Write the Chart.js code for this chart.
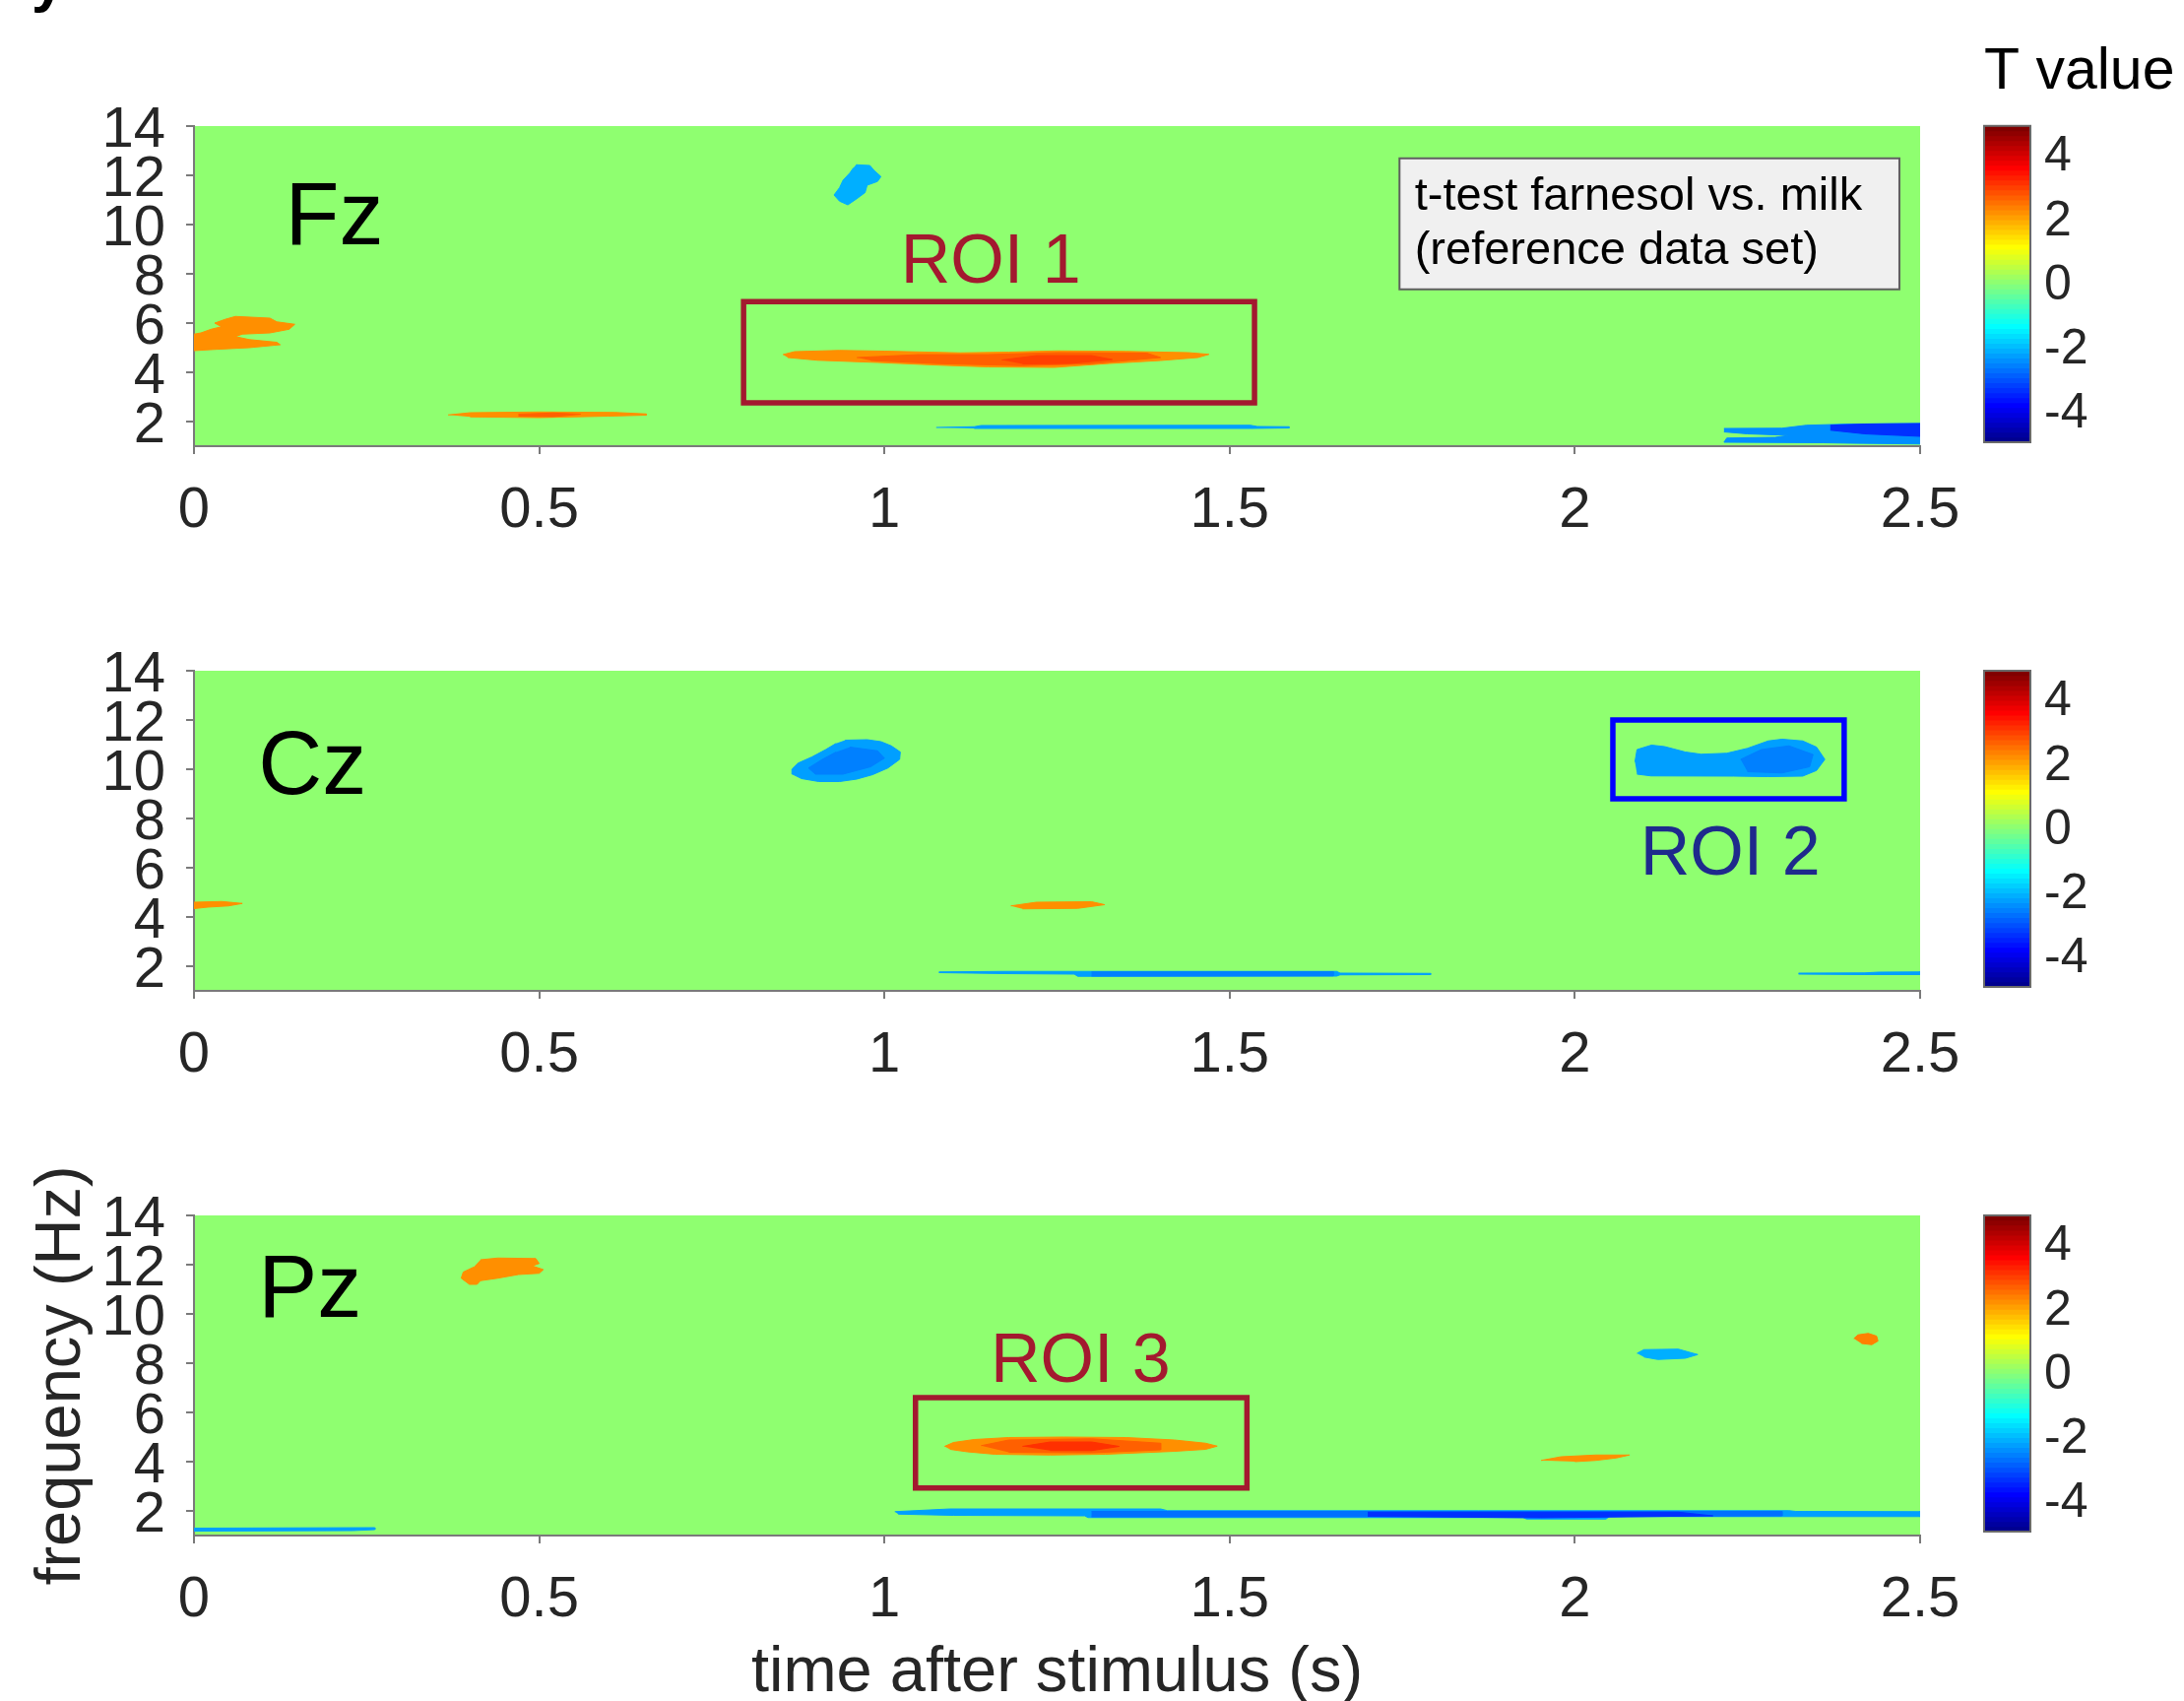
<!DOCTYPE html>
<html>
<head>
<meta charset="utf-8">
<script src="https://cdn.jsdelivr.net/npm/chart.js@4.4.1/dist/chart.umd.min.js"></script>
<style>
  html, body { margin: 0; padding: 0; background: #fff; }
  body { width: 2218px; height: 1727px; position: relative; overflow: hidden; }
  canvas { position: absolute; }
  #cut { position: absolute; left: 32px; top: -54px; line-height: 60px; font: bold 60px 'Liberation Sans', Arial, sans-serif; color: #000; }
</style>
</head>
<body>
<div id="cut">y</div>
<script>
// ---- data ----
const X_TICKS = [0, 0.5, 1, 1.5, 2, 2.5];
const Y_TICKS = [2, 4, 6, 8, 10, 12, 14];
const CBAR_TICKS = [-4, -2, 0, 2, 4];
const T_MIN = -5;
const T_MAX = 4.85;

const ELECTRODES = ['Fz', 'Cz', 'Pz'];
const ROI_NAMES = ['ROI 1', 'ROI 2', 'ROI 3'];
// [t start, t end, f low, f high]
const ROI_BOXES = [
  [0.796, 1.536, 2.76, 6.87],
  [2.055, 2.39, 8.8, 12.0],
  [1.045, 1.525, 2.93, 6.6]
];

// significant clusters: outline points [time (s), freq (Hz)] and T value
const FZ_BLOBS = [
  {T: 2.15, pts: [[0,4.88],[0.03,4.93],[0.08,5.0],[0.125,5.12],[0.12,5.22],[0.08,5.33],[0.06,5.45],[0.07,5.55],[0.11,5.6],[0.138,5.75],[0.146,5.95],[0.12,6.05],[0.11,6.2],[0.06,6.27],[0.045,6.15],[0.03,6.0],[0.04,5.85],[0.025,5.75],[0.01,5.6],[0,5.55]]},
  {T: 2.15, pts: [[0.368,2.27],[0.40,2.36],[0.50,2.39],[0.61,2.37],[0.655,2.31],[0.655,2.26],[0.60,2.22],[0.50,2.16],[0.40,2.19]]},
  {T: 2.6, pts: [[0.47,2.3],[0.52,2.35],[0.56,2.3],[0.52,2.2],[0.47,2.22]]},
  {T: -2.15, pts: [[0.959,12.43],[0.979,12.4],[0.985,12.2],[0.995,11.95],[0.99,11.75],[0.975,11.6],[0.972,11.3],[0.96,11.05],[0.947,10.8],[0.935,10.95],[0.927,11.2],[0.935,11.5],[0.94,11.8],[0.95,12.1],[0.955,12.3]]},
  {T: 2.15, pts: [[0.853,4.72],[0.87,4.84],[0.935,4.89],[1.0,4.86],[1.11,4.79],[1.18,4.82],[1.25,4.87],[1.35,4.85],[1.44,4.8],[1.47,4.73],[1.454,4.6],[1.4,4.48],[1.326,4.36],[1.246,4.2],[1.15,4.22],[1.079,4.29],[0.99,4.4],[0.903,4.49],[0.86,4.6]]},
  {T: 2.6, pts: [[0.96,4.6],[1.05,4.72],[1.15,4.72],[1.25,4.8],[1.38,4.78],[1.4,4.6],[1.3,4.35],[1.2,4.27],[1.08,4.35],[0.98,4.48]]},
  {T: 2.9, pts: [[1.17,4.5],[1.22,4.68],[1.3,4.68],[1.33,4.52],[1.27,4.36],[1.2,4.34]]},
  {T: -2.3, pts: [[1.075,1.76],[1.13,1.79],[1.14,1.84],[1.53,1.85],[1.54,1.8],[1.586,1.79],[1.586,1.74],[1.53,1.72],[1.13,1.72]]},
  {T: -2.45, pts: [[2.216,1.72],[2.3,1.73],[2.335,1.85],[2.4,1.9],[2.5,1.92],[2.5,1.09],[2.4,1.12],[2.36,1.14],[2.216,1.16],[2.22,1.33],[2.29,1.36],[2.31,1.44],[2.25,1.5],[2.216,1.58]]},
  {T: -3.4, pts: [[2.37,1.85],[2.42,1.9],[2.5,1.92],[2.5,1.4],[2.42,1.5],[2.37,1.65]]}
];

const CZ_BLOBS = [
  {T: 2.15, pts: [[0,4.6],[0.04,4.63],[0.07,4.55],[0.05,4.45],[0.02,4.4],[0,4.34]]},
  {T: -2.3, pts: [[0.943,11.18],[0.975,11.2],[0.995,11.12],[1.01,10.95],[1.023,10.7],[1.022,10.4],[1.005,10.05],[0.983,9.78],[0.96,9.6],[0.935,9.5],[0.905,9.5],[0.88,9.62],[0.867,9.8],[0.866,10.0],[0.875,10.25],[0.895,10.5],[0.915,10.8],[0.93,11.05]]},
  {T: -2.6, pts: [[0.95,10.9],[0.99,10.75],[1.0,10.45],[0.98,10.1],[0.94,9.8],[0.9,9.8],[0.89,10.05],[0.91,10.4],[0.93,10.7]]},
  {T: 2.15, pts: [[1.183,4.45],[1.22,4.6],[1.3,4.62],[1.319,4.5],[1.28,4.35],[1.2,4.33]]},
  {T: -2.3, pts: [[1.079,1.77],[1.175,1.79],[1.28,1.79],[1.655,1.79],[1.66,1.72],[1.791,1.71],[1.791,1.66],[1.66,1.65],[1.655,1.6],[1.28,1.59],[1.275,1.68],[1.175,1.7],[1.079,1.74]]},
  {T: -2.6, pts: [[1.3,1.77],[1.65,1.78],[1.65,1.61],[1.3,1.6]]},
  {T: -2.3, pts: [[2.087,10.3],[2.09,10.8],[2.111,10.98],[2.13,10.92],[2.16,10.7],[2.183,10.61],[2.22,10.65],[2.25,10.85],[2.28,11.15],[2.3,11.22],[2.33,11.15],[2.35,10.9],[2.362,10.4],[2.35,9.95],[2.33,9.72],[2.28,9.7],[2.23,9.72],[2.11,9.73],[2.09,9.8]]},
  {T: -2.6, pts: [[2.24,10.4],[2.27,10.8],[2.31,10.95],[2.345,10.6],[2.34,10.1],[2.3,9.85],[2.25,9.9]]},
  {T: -2.3, pts: [[2.324,1.72],[2.42,1.73],[2.44,1.76],[2.5,1.77],[2.5,1.66],[2.42,1.66],[2.324,1.68]]}
];

const PZ_BLOBS = [
  {T: 2.15, pts: [[0.415,12.2],[0.44,12.27],[0.495,12.25],[0.5,12.05],[0.49,11.95],[0.506,11.8],[0.5,11.65],[0.47,11.6],[0.44,11.45],[0.415,11.35],[0.41,11.2],[0.399,11.2],[0.387,11.45],[0.39,11.7],[0.405,11.9]]},
  {T: -2.3, pts: [[0,1.3],[0.262,1.32],[0.262,1.24],[0.23,1.2],[0,1.18]]},
  {T: 2.15, pts: [[1.087,4.62],[1.1,4.78],[1.13,4.9],[1.18,4.98],[1.26,5.0],[1.35,4.98],[1.42,4.88],[1.465,4.75],[1.482,4.63],[1.465,4.5],[1.42,4.42],[1.32,4.3],[1.24,4.27],[1.16,4.3],[1.12,4.4],[1.095,4.5]]},
  {T: 2.6, pts: [[1.14,4.65],[1.18,4.88],[1.3,4.93],[1.4,4.75],[1.4,4.48],[1.3,4.36],[1.18,4.38]]},
  {T: 3.1, pts: [[1.2,4.62],[1.24,4.8],[1.3,4.8],[1.34,4.62],[1.3,4.45],[1.24,4.45]]},
  {T: -2.3, pts: [[1.015,1.97],[1.095,2.08],[1.4,2.08],[1.41,2.01],[2.31,2.01],[2.32,1.98],[2.5,1.97],[2.5,1.77],[2.05,1.77],[2.045,1.67],[1.93,1.67],[1.925,1.73],[1.295,1.73],[1.29,1.8],[1.1,1.82],[1.02,1.87]]},
  {T: -2.7, pts: [[1.3,1.98],[2.3,1.98],[2.3,1.8],[2.0,1.77],[1.3,1.76]]},
  {T: -3.4, pts: [[1.7,1.95],[2.15,1.95],[2.2,1.8],[1.95,1.72],[1.7,1.78]]},
  {T: 2.15, pts: [[1.951,4.05],[1.98,4.2],[2.03,4.27],[2.079,4.27],[2.06,4.15],[2.03,4.05],[2.0,4.0]]},
  {T: -2.15, pts: [[2.09,8.4],[2.1,8.55],[2.15,8.57],[2.165,8.45],[2.178,8.35],[2.16,8.2],[2.12,8.15],[2.1,8.25]]},
  {T: 2.3, pts: [[2.404,9.0],[2.41,9.15],[2.425,9.21],[2.437,9.1],[2.439,8.9],[2.43,8.75],[2.415,8.8]]}
];

// ---- layout / style ----
const FONT = "'Liberation Sans', Arial, Helvetica, sans-serif";
const PANEL_TOPS = [128, 681, 1234];
const PLOT_H = 325;
const AXIS_GRAY = '#7a7a7a';
const TICK_TEXT = '#262626';
const ROI_COLORS = ['#a3192f', '#0000ff', '#a3192f'];
const ROI_TEXT_COLORS = ['#a3192f', '#1e2a8c', '#a3192f'];
// text anchors in data units [t, f]
const ELECTRODE_POS = [[0.132, 9.22], [0.093, 8.99], [0.093, 9.88]];
const ROI_LABEL_POS = [[1.154, 7.66], [2.225, 5.73], [1.284, 7.26]];
const NOTE_BOX = [1.746, 2.47, 7.37, 12.69];
const NOTE_LINES = ['t-test farnesol vs. milk', '(reference data set)'];
const NOTE_POS = [[1.768, 10.6], [1.768, 8.4]];

// MATLAB jet(64)
function jetRGB(k) {
  const u = j => j <= 16 ? j / 16 : (j <= 31 ? 1 : (48 - j) / 16);
  const r = k >= 25 ? u(k - 24) : 0;
  const g = (k >= 9 && k <= 55) ? u(k - 8) : 0;
  const b = k <= 39 ? u(k + 8) : 0;
  return 'rgb(' + Math.round(r * 255) + ',' + Math.round(g * 255) + ',' + Math.round(b * 255) + ')';
}
function tColor(T) {
  let k = Math.floor((T - T_MIN) / (T_MAX - T_MIN) * 64) + 1;
  k = Math.max(1, Math.min(64, k));
  return jetRGB(k);
}

function makeCanvas(left, top, w, h) {
  const c = document.createElement('canvas');
  c.width = w; c.height = h;
  c.style.left = left + 'px'; c.style.top = top + 'px';
  c.style.width = w + 'px'; c.style.height = h + 'px';
  document.body.appendChild(c);
  return c;
}

function decor(idx) {
  return {
    id: 'decor' + idx,
    beforeDraw(chart) {
      const {ctx, chartArea: a} = chart;
      ctx.save();
      ctx.fillStyle = tColor(0);
      ctx.fillRect(a.left, a.top, a.right - a.left, a.bottom - a.top);
      ctx.restore();
    },
    afterDatasetsDraw(chart) {
      const {ctx} = chart;
      const xs = chart.scales.x, ys = chart.scales.y;
      ctx.save();
      ctx.textAlign = 'left';
      ctx.textBaseline = 'alphabetic';
      ctx.fillStyle = '#000';
      ctx.font = '90px ' + FONT;
      const ep = ELECTRODE_POS[idx];
      ctx.fillText(ELECTRODES[idx], xs.getPixelForValue(ep[0]), ys.getPixelForValue(ep[1]));

      const rp = ROI_LABEL_POS[idx];
      ctx.font = '70px ' + FONT;
      ctx.textAlign = 'center';
      ctx.fillStyle = ROI_TEXT_COLORS[idx];
      ctx.fillText(ROI_NAMES[idx], xs.getPixelForValue(rp[0]), ys.getPixelForValue(rp[1]));

      if (idx === 0) {
        const x0 = xs.getPixelForValue(NOTE_BOX[0]), x1 = xs.getPixelForValue(NOTE_BOX[1]);
        const y0 = ys.getPixelForValue(NOTE_BOX[3]), y1 = ys.getPixelForValue(NOTE_BOX[2]);
        ctx.fillStyle = '#f0f0f0';
        ctx.fillRect(x0, y0, x1 - x0, y1 - y0);
        ctx.strokeStyle = '#5f5f5f';
        ctx.lineWidth = 2;
        ctx.strokeRect(x0, y0, x1 - x0, y1 - y0);
        ctx.fillStyle = '#000';
        ctx.font = '47px ' + FONT;
        ctx.textAlign = 'left';
        NOTE_LINES.forEach((s, i) => {
          ctx.fillText(s, xs.getPixelForValue(NOTE_POS[i][0]), ys.getPixelForValue(NOTE_POS[i][1]));
        });
      }
      ctx.restore();
    }
  };
}

function panelChart(idx, blobs) {
  const isBottom = idx === 2;
  const axisH = isBottom ? 200 : 110;
  const canvas = makeCanvas(0, PANEL_TOPS[idx] - 60, 2050, 60 + PLOT_H + axisH);

  const datasets = blobs.map((b, i) => {
    const c = tColor(b.T);
    return {
      data: b.pts.map(p => ({x: p[0], y: p[1]})),
      backgroundColor: c,
      borderColor: c,
      borderWidth: 1,
      fill: 'shape',
      pointRadius: 0,
      tension: 0,
      order: blobs.length - i + 1
    };
  });
  const r = ROI_BOXES[idx];
  datasets.push({
    data: [[r[0], r[2]], [r[1], r[2]], [r[1], r[3]], [r[0], r[3]], [r[0], r[2]]].map(p => ({x: p[0], y: p[1]})),
    borderColor: ROI_COLORS[idx],
    borderWidth: 5.5,
    borderJoinStyle: 'miter',
    borderCapStyle: 'square',
    fill: false,
    pointRadius: 0,
    order: 0
  });

  const tickFont = {family: FONT, size: 58};
  const titleFont = {family: FONT, size: 65};

  return new Chart(canvas, {
    type: 'line',
    data: {datasets},
    options: {
      responsive: false,
      animation: false,
      devicePixelRatio: 1,
      layout: {padding: {top: 60, right: 100, left: 0, bottom: 0}},
      plugins: {legend: {display: false}, tooltip: {enabled: false}},
      scales: {
        x: {
          type: 'linear', min: 0, max: 2.5, z: 1,
          afterBuildTicks: s => { s.ticks = X_TICKS.map(v => ({value: v})); },
          afterFit: s => { s.height = axisH; },
          ticks: {autoSkip: false, maxRotation: 0, font: tickFont, color: TICK_TEXT, padding: 23, callback: v => String(v)},
          grid: {drawOnChartArea: false, tickLength: 8, color: AXIS_GRAY, lineWidth: 2},
          border: {color: AXIS_GRAY, width: 2},
          title: {display: isBottom, text: 'time after stimulus (s)', font: titleFont, color: TICK_TEXT, padding: {top: 0, bottom: 21}}
        },
        y: {
          type: 'linear', min: 1, max: 14, z: 1,
          afterBuildTicks: s => { s.ticks = Y_TICKS.map(v => ({value: v})); },
          afterFit: s => { s.width = 197; },
          ticks: {autoSkip: false, font: tickFont, color: TICK_TEXT, padding: 21, labelOffset: 5, callback: v => String(v)},
          grid: {drawOnChartArea: false, tickLength: 8, color: AXIS_GRAY, lineWidth: 2},
          border: {color: AXIS_GRAY, width: 2},
          title: {display: isBottom, text: 'frequency (Hz)', font: titleFont, color: TICK_TEXT, padding: {top: 24, bottom: 0}}
        }
      }
    },
    plugins: [decor(idx)]
  });
}

function colorbarChart(idx) {
  const first = idx === 0;
  const top = first ? 0 : PANEL_TOPS[idx] - 60;
  const h = first ? PANEL_TOPS[0] + PLOT_H + 40 : 60 + PLOT_H + 40;
  const canvas = makeCanvas(2000, top, 218, h);
  const step = (T_MAX - T_MIN) / 64;
  const datasets = [];
  for (let i = 0; i < 64; i++) {
    datasets.push({
      data: [[T_MIN + i * step, T_MAX]],
      backgroundColor: jetRGB(i + 1),
      borderWidth: 0,
      grouped: false,
      barPercentage: 1,
      categoryPercentage: 1,
      order: 64 - i
    });
  }
  return new Chart(canvas, {
    type: 'bar',
    data: {labels: [''], datasets},
    options: {
      responsive: false,
      animation: false,
      devicePixelRatio: 1,
      layout: {padding: {top: first ? 0 : 60, left: 15, right: 0, bottom: 40}},
      plugins: {
        legend: {display: false},
        tooltip: {enabled: false},
        title: {
          display: first, text: 'T value', align: 'start',
          font: {family: FONT, size: 59, weight: 'normal'}, color: '#000',
          padding: {top: 38, bottom: 19}
        }
      },
      scales: {
        x: {display: false},
        y: {
          position: 'right', min: T_MIN, max: T_MAX,
          afterBuildTicks: s => { s.ticks = CBAR_TICKS.map(v => ({value: v})); },
          afterFit: s => { s.width = 156; },
          ticks: {font: {family: FONT, size: 50}, color: TICK_TEXT, padding: 14, labelOffset: 4, callback: v => String(v)},
          grid: {drawOnChartArea: false, drawTicks: false},
          border: {display: false}
        }
      }
    },
    plugins: [{
      id: 'cbarFrame',
      afterDraw(chart) {
        const {ctx, chartArea: a} = chart;
        ctx.save();
        ctx.strokeStyle = '#6a6a6a';
        ctx.lineWidth = 2;
        ctx.strokeRect(a.left, a.top, a.right - a.left, a.bottom - a.top);
        ctx.restore();
      }
    }]
  });
}

panelChart(0, FZ_BLOBS);
panelChart(1, CZ_BLOBS);
panelChart(2, PZ_BLOBS);
colorbarChart(0);
colorbarChart(1);
colorbarChart(2);
</script>
</body>
</html>
